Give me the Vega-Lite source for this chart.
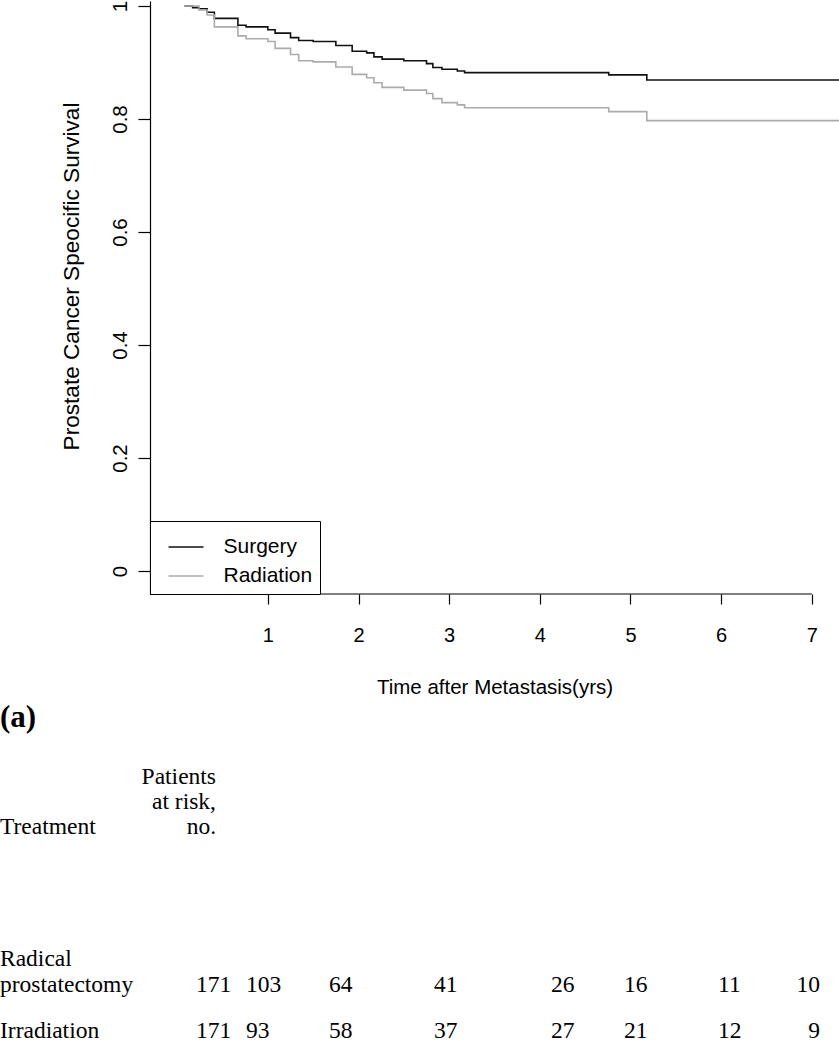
{
  "$schema": "https://vega.github.io/schema/vega-lite/v6.json",
  "padding": 0,
  "background": "white",
  "bounds": "flush",
  "spacing": 97,
  "config": {
    "view": {"stroke": null},
    "axis": {"grid": false, "domainColor": "black", "tickColor": "black", "labelColor": "black", "titleColor": "black", "labelFont": "Liberation Sans", "titleFont": "Liberation Sans", "titleFontWeight": "normal", "domainWidth": 1.2, "tickWidth": 1.2},
    "text": {"font": "Liberation Serif", "fontSize": 23.5, "color": "black"}
  },
  "resolve": {"scale": {"color": "independent"}, "legend": {"color": "independent"}},
  "vconcat": [
    {
      "width": 689,
      "height": 593,
      "layer": [
        {
          "data": {"values": [
            {"group": "Surgery", "time": 0.08, "survival": 1.0},
            {"group": "Surgery", "time": 0.17, "survival": 0.997},
            {"group": "Surgery", "time": 0.24, "survival": 0.995},
            {"group": "Surgery", "time": 0.33, "survival": 0.989},
            {"group": "Surgery", "time": 0.41, "survival": 0.978},
            {"group": "Surgery", "time": 0.67, "survival": 0.966},
            {"group": "Surgery", "time": 0.76, "survival": 0.963},
            {"group": "Surgery", "time": 1.0, "survival": 0.958},
            {"group": "Surgery", "time": 1.08, "survival": 0.952},
            {"group": "Surgery", "time": 1.25, "survival": 0.944},
            {"group": "Surgery", "time": 1.34, "survival": 0.939},
            {"group": "Surgery", "time": 1.5, "survival": 0.937},
            {"group": "Surgery", "time": 1.75, "survival": 0.93},
            {"group": "Surgery", "time": 1.93, "survival": 0.92},
            {"group": "Surgery", "time": 2.09, "survival": 0.917},
            {"group": "Surgery", "time": 2.17, "survival": 0.91},
            {"group": "Surgery", "time": 2.26, "survival": 0.906},
            {"group": "Surgery", "time": 2.5, "survival": 0.903},
            {"group": "Surgery", "time": 2.75, "survival": 0.898},
            {"group": "Surgery", "time": 2.82, "survival": 0.891},
            {"group": "Surgery", "time": 2.92, "survival": 0.888},
            {"group": "Surgery", "time": 3.09, "survival": 0.885},
            {"group": "Surgery", "time": 3.17, "survival": 0.882},
            {"group": "Surgery", "time": 4.76, "survival": 0.878},
            {"group": "Surgery", "time": 5.18, "survival": 0.869},
            {"group": "Surgery", "time": 7.3, "survival": 0.869},
            {"group": "Radiation", "time": 0.08, "survival": 1.0},
            {"group": "Radiation", "time": 0.24, "survival": 0.993},
            {"group": "Radiation", "time": 0.33, "survival": 0.984},
            {"group": "Radiation", "time": 0.41, "survival": 0.963},
            {"group": "Radiation", "time": 0.67, "survival": 0.947},
            {"group": "Radiation", "time": 0.76, "survival": 0.942},
            {"group": "Radiation", "time": 1.0, "survival": 0.937},
            {"group": "Radiation", "time": 1.08, "survival": 0.925},
            {"group": "Radiation", "time": 1.25, "survival": 0.914},
            {"group": "Radiation", "time": 1.34, "survival": 0.903},
            {"group": "Radiation", "time": 1.5, "survival": 0.901},
            {"group": "Radiation", "time": 1.75, "survival": 0.892},
            {"group": "Radiation", "time": 1.93, "survival": 0.879},
            {"group": "Radiation", "time": 2.09, "survival": 0.873},
            {"group": "Radiation", "time": 2.17, "survival": 0.864},
            {"group": "Radiation", "time": 2.26, "survival": 0.856},
            {"group": "Radiation", "time": 2.5, "survival": 0.851},
            {"group": "Radiation", "time": 2.75, "survival": 0.845},
            {"group": "Radiation", "time": 2.82, "survival": 0.836},
            {"group": "Radiation", "time": 2.92, "survival": 0.829},
            {"group": "Radiation", "time": 3.09, "survival": 0.825},
            {"group": "Radiation", "time": 3.17, "survival": 0.82},
            {"group": "Radiation", "time": 4.76, "survival": 0.813},
            {"group": "Radiation", "time": 5.18, "survival": 0.797},
            {"group": "Radiation", "time": 7.3, "survival": 0.797}
          ]},
          "mark": {"type": "line", "interpolate": "step-after", "strokeWidth": 1.6},
          "encoding": {
            "x": {"field": "time", "type": "quantitative",
              "scale": {"domain": [-0.3, 7.3], "nice": false, "zero": false},
              "axis": {"values": [1, 2, 3, 4, 5, 6, 7], "format": "d", "title": "Time after Metastasis(yrs)", "domain": false, "tickSize": 10, "labelPadding": 21, "titlePadding": 32, "labelFontSize": 20, "titleFontSize": 20.5}},
            "y": {"field": "survival", "type": "quantitative",
              "scale": {"domain": [-0.0407, 1.0088], "nice": false, "zero": false},
              "axis": {"values": [0, 0.2, 0.4, 0.6, 0.8, 1], "format": "~g", "title": "Prostate Cancer Speocific Survival", "tickSize": 12, "labelAngle": -90, "labelAlign": "center", "labelBaseline": "bottom", "labelPadding": 8, "titlePadding": 27, "labelFontSize": 20.5, "titleFontSize": 22.6, "titleY": 275}},
            "color": {"field": "group", "type": "nominal",
              "scale": {"domain": ["Surgery", "Radiation"], "range": ["#111111", "#ababab"]},
              "legend": {"title": null, "orient": "bottom-left", "offset": 0, "padding": 7.5, "strokeColor": "black", "fillColor": "white", "symbolType": "stroke", "symbolSize": 1225, "symbolStrokeWidth": 1.6, "symbolOffset": 10, "labelFontSize": 21, "labelFont": "Liberation Sans", "labelColor": "black", "labelOffset": 19, "rowPadding": -12, "cornerRadius": 0}}
          }
        },
        {
          "data": {"values": [{}]},
          "mark": {"type": "rule", "color": "black", "strokeWidth": 1.2},
          "encoding": {"x": {"datum": -0.3}, "x2": {"datum": 7}, "y": {"datum": -0.0407}}
        }
      ]
    },
    {
      "width": 689,
      "height": 360,
      "data": {"values": [
        {"role": "title", "text": "(a)", "col": 0, "line": 0},
        {"role": "header", "text": "Patients", "col": 1, "line": 1},
        {"role": "header", "text": "at risk,", "col": 1, "line": 2},
        {"role": "header", "text": "no.", "col": 1, "line": 3},
        {"role": "label", "text": "Treatment", "col": 0, "line": 3},
        {"role": "label", "text": "Radical", "col": 0, "line": 4},
        {"role": "label", "text": "prostatectomy", "col": 0, "line": 5},
        {"role": "label", "text": "Irradiation", "col": 0, "line": 6},
        {"role": "count", "text": "171", "col": 1, "line": 5},
        {"role": "count", "text": "103", "col": 2, "line": 5},
        {"role": "count", "text": "64", "col": 3, "line": 5},
        {"role": "count", "text": "41", "col": 4, "line": 5},
        {"role": "count", "text": "26", "col": 5, "line": 5},
        {"role": "count", "text": "16", "col": 6, "line": 5},
        {"role": "count", "text": "11", "col": 7, "line": 5},
        {"role": "countLast", "text": "10", "col": 8, "line": 5},
        {"role": "count", "text": "171", "col": 1, "line": 6},
        {"role": "count", "text": "93", "col": 2, "line": 6},
        {"role": "count", "text": "58", "col": 3, "line": 6},
        {"role": "count", "text": "37", "col": 4, "line": 6},
        {"role": "count", "text": "27", "col": 5, "line": 6},
        {"role": "count", "text": "21", "col": 6, "line": 6},
        {"role": "count", "text": "12", "col": 7, "line": 6},
        {"role": "countLast", "text": "9", "col": 8, "line": 6}
      ]},
      "encoding": {
        "x": {"field": "col", "type": "quantitative", "axis": null,
          "scale": {"domain": [0, 1, 2, 3, 4, 5, 6, 7, 8], "range": [-150, 46, 96, 179, 284, 401, 474, 568, 670], "nice": false, "zero": false}},
        "y": {"field": "line", "type": "quantitative", "axis": null,
          "scale": {"domain": [0, 1, 2, 3, 4, 5, 6], "range": [27, 86, 111, 136, 268, 294, 340], "nice": false, "zero": false}},
        "text": {"field": "text", "type": "nominal"}
      },
      "layer": [
        {"transform": [{"filter": "datum.role === 'title'"}],
         "mark": {"type": "text", "align": "left", "baseline": "middle", "fontSize": 31, "fontWeight": "bold"}},
        {"transform": [{"filter": "datum.role === 'label'"}],
         "mark": {"type": "text", "align": "left", "baseline": "middle"}},
        {"transform": [{"filter": "datum.role === 'header'"}],
         "mark": {"type": "text", "align": "right", "baseline": "middle", "dx": 20}},
        {"transform": [{"filter": "datum.role === 'count'"}],
         "mark": {"type": "text", "align": "left", "baseline": "middle"}},
        {"transform": [{"filter": "datum.role === 'countLast'"}],
         "mark": {"type": "text", "align": "right", "baseline": "middle"}}
      ]
    }
  ]
}
